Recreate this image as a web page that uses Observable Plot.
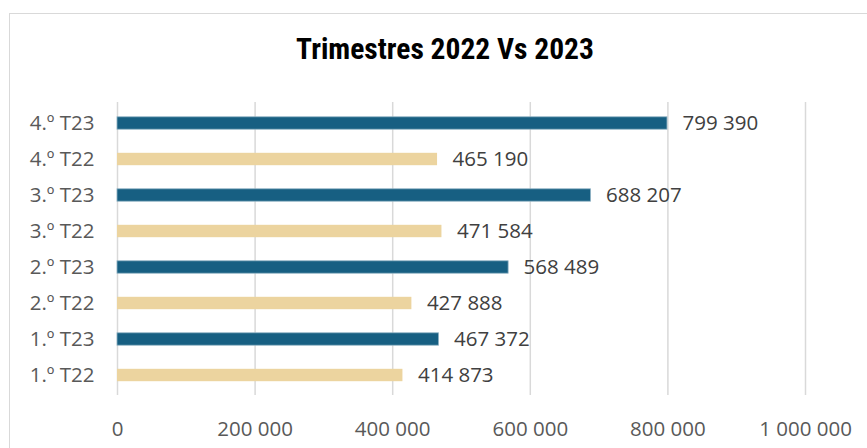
<!DOCTYPE html>
<html>
<head>
<meta charset="utf-8">
<script src="https://cdn.jsdelivr.net/npm/d3@7"></script>
<script src="https://cdn.jsdelivr.net/npm/@observablehq/plot@0.6"></script>
<style>
  html, body { margin: 0; padding: 0; background: #fff; width: 867px; height: 448px; overflow: hidden; }
  #frame { position: absolute; left: 9px; top: 13px; width: 900px; height: 480px; border: 1px solid #d9d9d9; box-sizing: border-box; }
  #title { position: absolute; left: 0; width: 890px; top: 32px; text-align: center; font-family: "Liberation Sans Narrow", "Roboto Condensed", "Liberation Sans", sans-serif; font-weight: bold; font-size: 29.5px; color: #000; }
  #chart { position: absolute; left: 0; top: 0; }
</style>
</head>
<body>
<div id="frame"></div>
<div id="title">Trimestres 2022 Vs 2023</div>
<div id="chart"></div>
<script>
const categories = ["4.º T23", "4.º T22", "3.º T23", "3.º T22", "2.º T23", "2.º T22", "1.º T23", "1.º T22"];
const values = [799390, 465190, 688207, 471584, 568489, 427888, 467372, 414873];
const years = ["2023", "2022", "2023", "2022", "2023", "2022", "2023", "2022"];
const xTicks = [0, 200000, 400000, 600000, 800000, 1000000];

const data = categories.map((c, i) => ({cat: c, value: values[i], year: years[i]}));
const locale = d3.formatLocale({decimal: ",", thousands: " ", grouping: [3]});
const fmt = locale.format(",d");
const FONT = "'Open Sans', Lato, sans-serif";
const FS = 20.5;

const chart = Plot.plot({
  width: 867,
  height: 448,
  marginTop: 102,
  marginBottom: 53,
  marginLeft: 117,
  marginRight: 62,
  style: {fontFamily: FONT, fontSize: FS + "px", color: "#595959", background: "transparent"},
  x: {domain: [0, 1000000], ticks: xTicks, tickFormat: fmt, label: null},
  y: {domain: categories, label: null, padding: 0},
  color: {domain: ["2023", "2022"], range: ["#175f82", "#ecd49f"]},
  marks: [
    Plot.gridX(xTicks, {stroke: "#d9d9d9", strokeOpacity: 1, strokeWidth: 1.5}),
    Plot.barX(data, {y: "cat", x: "value", fill: "year", insetTop: 11.8, insetBottom: 11.8,
      stroke: d => d.year === "2023" ? "#8fb2c4" : "none", strokeWidth: 0.8}),
    Plot.text(data, {y: "cat", x: "value", text: d => fmt(d.value), textAnchor: "start", dx: 15, fill: "#404040", fontSize: FS, fontFamily: FONT}),
    Plot.axisY({tickSize: 0, tickPadding: 23, fill: "#595959", fontSize: FS, fontFamily: FONT, label: null}),
    Plot.axisX(xTicks, {tickSize: 0, tickPadding: 26, tickFormat: fmt, fill: "#595959", fontSize: FS, fontFamily: FONT, label: null})
  ]
});
document.getElementById("chart").appendChild(chart);
</script>
</body>
</html>
